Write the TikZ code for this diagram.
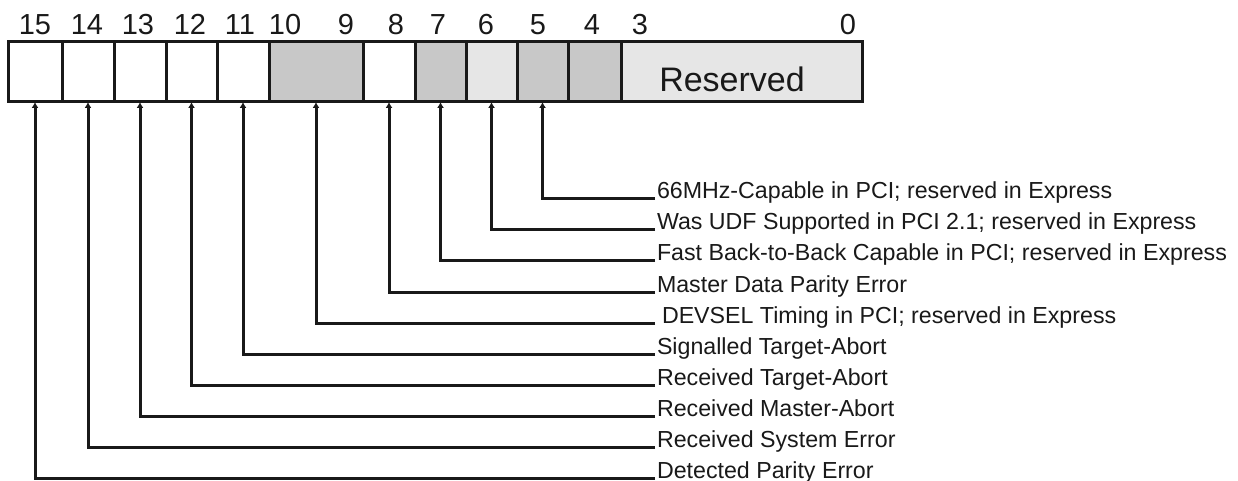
\documentclass[tikz,border=0pt]{standalone}
\usepackage{fontspec}
\setmainfont{Liberation Sans}
\usetikzlibrary{arrows.meta,positioning}
\definecolor{regdark}{RGB}{200,200,200}
\definecolor{reglight}{RGB}{230,230,230}
\definecolor{regink}{RGB}{25,25,25}

\begin{document}
\begin{tikzpicture}[x=1pt,y=-1pt,>={Latex[length=6pt,width=7pt]},every node/.style={inner sep=0,outer sep=0,text=regink}]
\tikzstyle{cell}=[draw=regink,line width=3pt,minimum height=60pt,fill=white]
\tikzstyle{bitnum}=[anchor=base,font=\fontsize{29}{31}\selectfont]
\tikzstyle{desc}=[anchor=base west,inner xsep=2pt,font=\fontsize{23.2}{25}\selectfont]
\tikzstyle{tap}=[->,draw=regink,line width=3pt]
\useasboundingbox (0,0) rectangle (1238,481);
\node[cell,minimum width=54] (c15) at (35,72)    {};
\node[cell,minimum width=52] (c14) at (88,72)    {};
\node[cell,minimum width=52] (c13) at (140,72)   {};
\node[cell,minimum width=51] (c12) at (191.5,72) {};
\node[cell,minimum width=52] (c11) at (243,72)   {};
\node[cell,minimum width=94,fill=regdark] (c10) at (316,72) {};
\node[cell,minimum width=52] (c8) at (389,72)    {};
\node[cell,minimum width=51,fill=regdark]  (c7) at (440.5,72) {};
\node[cell,minimum width=51,fill=reglight] (c6) at (491.5,72) {};
\node[cell,minimum width=51,fill=regdark]  (c5) at (542.5,72) {};
\node[cell,minimum width=53,fill=regdark]  (c4) at (594.5,72) {};
\node[cell,minimum width=241,fill=reglight] (c3) at (741.5,72) {};
\node[anchor=base,font=\fontsize{34}{36}\selectfont] (rsv) at (732,92) {Reserved};
\node[bitnum] (b15) at (35,35)  {15};
\node[bitnum] (b14) at (87,35)  {14};
\node[bitnum] (b13) at (138,35) {13};
\node[bitnum] (b12) at (190,35) {12};
\node[bitnum] (b11) at (240,35) {11};
\node[bitnum] (b10) at (285,35) {10};
\node[bitnum] (b9)  at (346,35) {9};
\node[bitnum] (b8)  at (396,35) {8};
\node[bitnum] (b7)  at (438,35) {7};
\node[bitnum] (b6)  at (486,35) {6};
\node[bitnum] (b5)  at (538,35) {5};
\node[bitnum] (b4)  at (592,35) {4};
\node[bitnum] (b3)  at (640,35) {3};
\node[bitnum] (b0)  at (848,35) {0};
\node[desc] (d5)  at (655,198) {66MHz-Capable in PCI; reserved in Express};
\node[desc] (d6)  at (655,229) {Was UDF Supported in PCI 2.1; reserved in Express};
\node[desc] (d7)  at (655,260) {Fast Back-to-Back Capable in PCI; reserved in Express};
\node[desc] (d8)  at (655,292) {Master Data Parity Error};
\node[desc] (d10) at (655,323) {\hspace{5pt}DEVSEL Timing in PCI; reserved in Express};
\node[desc] (d11) at (655,354) {Signalled Target-Abort};
\node[desc] (d12) at (655,385) {Received Target-Abort};
\node[desc] (d13) at (655,416) {Received Master-Abort};
\node[desc] (d14) at (655,447) {Received System Error};
\node[desc] (d15) at (655,478) {Detected Parity Error};
\draw[tap] (d5.base west)  -| (c5.south);
\draw[tap] (d6.base west)  -| (c6.south);
\draw[tap] (d7.base west)  -| (c7.south);
\draw[tap] (d8.base west)  -| (c8.south);
\draw[tap] (d10.base west) -| (c10.south);
\draw[tap] (d11.base west) -| (c11.south);
\draw[tap] (d12.base west) -| (c12.south);
\draw[tap] (d13.base west) -| (c13.south);
\draw[tap] (d14.base west) -| (c14.south);
\draw[tap] (d15.base west) -| (c15.south);
\end{tikzpicture}
\end{document}
